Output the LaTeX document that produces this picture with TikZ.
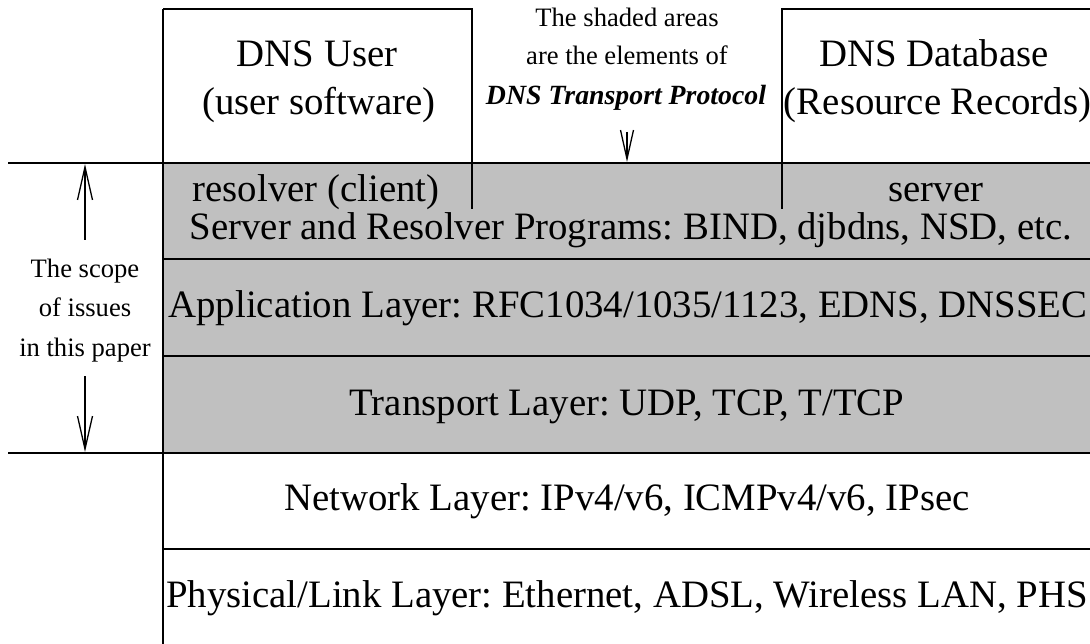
\documentclass[tikz,border=0pt]{standalone}
\usepackage{fontspec}
\setmainfont{Liberation Serif}
\usetikzlibrary{arrows.meta}
\definecolor{layershade}{RGB}{192,192,192}
\frenchspacing
\begin{document}
\begin{tikzpicture}[x=1pt,y=-1pt,
  rule/.style={line width=1.8pt},
  big/.style={font=\fontsize{38.8}{46}\selectfont, inner sep=0pt, anchor=base},
  note/.style={font=\fontsize{26.6}{39}\selectfont, inner sep=0pt, anchor=base},
  scopearrow/.style={line width=1.3pt,
    -{Straight Barb[length=33pt,width=15pt,line width=1.3pt]}},
  markarrow/.style={line width=1.3pt,
    -{Straight Barb[length=29pt,width=13pt,line width=1.3pt]}}
]
\useasboundingbox (0,0) rectangle (1090,644);

% shaded DNS transport protocol layers
\fill[layershade] (163,163) rectangle (1090,453);

% layer boundaries
\draw[rule] (8,163) -- (1090,163);
\draw[rule] (163,259) -- (1090,259);
\draw[rule] (163,356) -- (1090,356);
\draw[rule] (8,453) -- (1090,453);
\draw[rule] (163,549) -- (1090,549);
\draw[rule] (163,9) -- (163,644);

% user and database boxes with their dividers into the program layer
\draw[rule] (163,9) -- (472,9) -- (472,209);
\draw[rule] (1090,9) -- (782,9) -- (782,209);

% box texts
\node[big] (user1) at (317,67) {DNS User};
\node[big] (user2) at (319,115) {(user software)};
\node[big] (db1) at (934,67) {DNS Database};
\node[big] (db2) at (937.5,115) {(Resource Records)};

% note on the shaded areas
\node[note] (shade1) at (627,27) {The shaded areas};
\node[note] (shade2) at (627,65) {are the elements of};
\node[note, font=\fontsize{27.8}{39}\selectfont\bfseries\itshape] (shade3) at (626,105) {DNS Transport Protocol};
\coordinate (markfrom) at (627,132);
\coordinate (markto) at (627,162);
\draw[markarrow] (markfrom) -- (markto);

% scope of the paper
\node[note] (scope1) at (85,278) {The scope};
\node[note] (scope2) at (85,317) {of issues};
\node[note] (scope3) at (85,356) {in this paper};
\coordinate (upfrom) at (85,240);
\coordinate (upto) at (85,164);
\coordinate (downfrom) at (85,376);
\coordinate (downto) at (85,452);
\draw[scopearrow] (upfrom) -- (upto);
\draw[scopearrow] (downfrom) -- (downto);

% layer texts
\node[big] (resolver) at (316,202) {resolver (client)};
\node[big] (server) at (936,202) {server};
\node[big] (programs) at (631,240) {Server and Resolver Programs: BIND, djbdns, NSD, etc.};
\node[big] (application) at (628,318) {Application Layer: RFC1034/1035/1123, EDNS, DNSSEC};
\node[big] (transport) at (627,415) {Transport Layer: UDP, TCP, T/TCP};
\node[big] (network) at (627,510) {Network Layer: IPv4/v6, ICMPv4/v6, IPsec};
\node[big] (physical) at (627,607) {Physical/Link Layer: Ethernet, ADSL, Wireless LAN, PHS};
\end{tikzpicture}
\end{document}
